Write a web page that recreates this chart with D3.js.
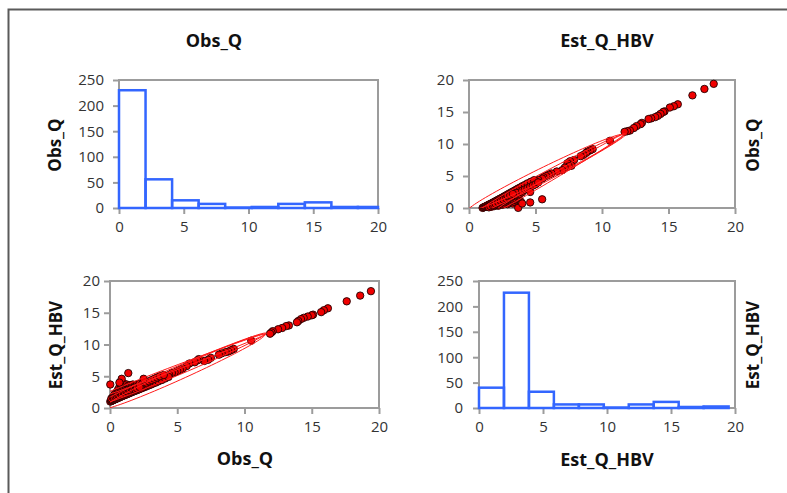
<!DOCTYPE html>
<html>
<head>
<meta charset="utf-8">
<script src="https://cdn.jsdelivr.net/npm/d3@7"></script>
<style>
  body { margin: 0; background: #fff; }
  svg { display: block; }
  .tick text { font-family: "Open Sans", sans-serif; font-size: 15px; fill: #333; }
  .tick line { stroke: #9c9c9c; stroke-width: 2; }
  .lbl { font-family: "Open Sans", sans-serif; font-weight: bold; fill: #111; }
</style>
</head>
<body>
<svg width="787" height="493"></svg>
<script>
// histogram counts (10 bins each)
var obsHistCounts = [230, 56, 15, 8, 1, 2, 8, 11, 2, 2];
var obsHistWidth = 2.05;
var estHistCounts = [40, 227, 32, 7, 7, 1, 7, 12, 2, 3];
var estHistWidth = 1.95;

// paired observations: Obs_Q and Est_Q_HBV
var obsQ = [
  19.4, 18.6, 17.6, 16.2, 15.9, 15.7, 15.1, 15.0, 14.7, 14.4, 14.2, 14.0, 13.9, 13.3, 13.1, 12.8, 12.5, 12.1, 12.0, 11.9,
  10.5, 9.2, 9.0, 8.8, 8.6, 8.3, 8.1, 7.5, 7.3, 7.0, 6.6, 6.5, 6.3, 5.9, 5.7, 5.4, 5.2, 5.0, 4.8, 4.6,
  4.4, 4.2, 4.0, 3.8, 3.6, 3.4, 3.2, 3.0, 2.8, 2.5, 2.3,
  0.02, 0.08, 0.12, 0.18, 0.22, 0.28, 0.33, 0.38, 0.42, 0.47, 0.52, 0.58, 0.63, 0.68, 0.73, 0.78, 0.84, 0.9, 0.96, 1.02,
  1.1, 1.18, 1.26, 1.35, 1.44, 1.53, 1.62, 1.72, 1.82, 1.93, 2.05, 2.18, 2.32, 2.46, 2.6, 2.75, 2.9, 3.05, 3.2, 3.4,
  3.6, 3.85, 4.1, 4.35,
  0.1, 0.2, 0.3, 0.35, 0.45, 0.5, 0.55, 0.6, 0.65, 0.7, 0.75, 0.8, 0.85, 0.9, 0.95, 1.0, 1.05, 1.1, 1.15, 1.2,
  1.25, 1.3, 1.35, 1.4, 1.5, 1.55, 1.6, 1.7, 1.75, 1.85, 1.95, 2.0, 2.1, 2.2, 2.35, 2.45, 2.7, 2.9, 3.1, 3.3,
  3.5, 3.7, 4.0, 0.3, 0.4, 0.5, 0.6, 0.7, 0.8, 0.9, 1.0, 1.1, 1.2, 1.3, 1.4, 1.5, 1.6, 1.7, 1.8, 1.9,
  2.0, 2.2,
  0.02, 0.87, 1.36, 0.7, 2.5
];
var estQ = [
  18.4, 17.7, 16.8, 15.7, 15.4, 15.1, 14.7, 14.6, 14.4, 14.2, 14.0, 13.7, 13.5, 13.0, 12.9, 12.6, 12.4, 12.1, 11.9, 11.7,
  10.6, 9.3, 9.1, 8.9, 8.8, 8.6, 8.4, 7.9, 7.6, 7.4, 7.7, 7.5, 7.2, 7.0, 6.6, 6.2, 6.0, 5.8, 5.6, 5.5,
  5.2, 5.0, 4.9, 4.8, 4.6, 4.5, 4.3, 4.1, 3.9, 3.7, 3.5,
  1.02, 1.08, 1.12, 1.18, 1.25, 1.28, 1.34, 1.37, 1.43, 1.46, 1.52, 1.56, 1.62, 1.66, 1.72, 1.76, 1.82, 1.86, 1.92, 1.97,
  2.04, 2.1, 2.18, 2.25, 2.33, 2.42, 2.5, 2.58, 2.66, 2.75, 2.85, 2.96, 3.08, 3.2, 3.32, 3.45, 3.58, 3.7, 3.85, 4.0,
  4.2, 4.4, 4.65, 4.9,
  1.5, 1.7, 1.9, 2.2, 2.0, 2.5, 2.2, 2.9, 2.6, 3.3, 2.4, 3.6, 3.0, 2.7, 3.4, 3.9, 3.1, 3.6, 2.8, 3.3,
  3.7, 3.0, 3.5, 3.2, 3.6, 3.0, 3.4, 3.7, 3.2, 3.5, 3.3, 3.7, 3.5, 3.8, 3.6, 4.0, 4.0, 4.2, 4.4, 4.6,
  4.8, 5.0, 5.2, 1.6, 1.8, 1.9, 2.1, 2.0, 2.3, 2.2, 2.5, 2.4, 2.7, 2.6, 2.9, 2.8, 3.1, 3.0, 3.2, 2.9,
  3.1, 3.3,
  3.7, 4.6, 5.5, 4.0, 4.6
];

// confidence ellipses: tips [obs, est] and semi-minor axis
var ellipseTipA = [[-1.0, 1.6], [-0.8, 0.6], [-0.5, -0.1]];
var ellipseTipB = [[11.6, 11.7], [11.6, 11.8], [11.5, 11.6]];
var ellipseMinor = [0.3, 0.55, 0.75];

var svg = d3.select("svg");
svg.append("rect").attr("width", 787).attr("height", 493).attr("fill", "#fff");

// outer frame
svg.append("path")
  .attr("d", "M8.5,493 V9.5 H787")
  .attr("fill", "none").attr("stroke", "#5a5a5a").attr("stroke-width", 2);

var panels = [
  { id: "p1", x0: 119, x1: 378, y0: 80, y1: 208, yMax: 250, yStep: 50, pad: 9 },
  { id: "p2", x0: 469, x1: 735, y0: 80, y1: 208, yMax: 20, yStep: 5, pad: 9 },
  { id: "p3", x0: 110, x1: 379, y0: 281, y1: 408, yMax: 20, yStep: 5, pad: 4 },
  { id: "p4", x0: 479, x1: 735, y0: 281, y1: 408, yMax: 250, yStep: 50, pad: 10 }
];

function setup(p) {
  p.x = d3.scaleLinear().domain([0, 20]).range([p.x0, p.x1]);
  p.y = d3.scaleLinear().domain([0, p.yMax]).range([p.y1, p.y0]);
  var g = svg.append("g");
  g.append("rect")
    .attr("x", p.x0).attr("y", p.y0)
    .attr("width", p.x1 - p.x0).attr("height", p.y1 - p.y0)
    .attr("fill", "none").attr("stroke", "#9c9c9c").attr("stroke-width", 2);
  g.append("g").attr("transform", "translate(0," + p.y1 + ")")
    .call(d3.axisBottom(p.x).tickValues([0, 5, 10, 15, 20]).tickSize(6).tickPadding(7))
    .call(function(a) { a.select(".domain").remove(); });
  g.append("g").attr("transform", "translate(" + p.x0 + ",0)")
    .call(d3.axisLeft(p.y).tickValues(d3.range(0, p.yMax + 1, p.yStep)).tickSize(6).tickPadding(p.pad))
    .call(function(a) { a.select(".domain").remove(); });
  svg.append("clipPath").attr("id", "clip-" + p.id)
    .append("rect")
    .attr("x", p.x0).attr("y", p.y0)
    .attr("width", p.x1 - p.x0).attr("height", p.y1 - p.y0);
  p.g = g;
}
panels.forEach(setup);

function histogram(p, counts, w) {
  p.g.selectAll("rect.bar")
    .data(counts)
    .enter().append("rect")
      .attr("class", "bar")
      .attr("x", function(d, i) { return p.x(i * w); })
      .attr("width", function(d, i) { return p.x(Math.min((i + 1) * w, 20)) - p.x(i * w); })
      .attr("y", function(d) { return p.y(d); })
      .attr("height", function(d) { return p.y(0) - p.y(d); })
      .attr("fill", "none")
      .attr("stroke", "#3366ff")
      .attr("stroke-width", 2.5);
}
histogram(panels[0], obsHistCounts, obsHistWidth);
histogram(panels[3], estHistCounts, estHistWidth);

function ellipsePoints(i) {
  var a = ellipseTipA[i], b = ellipseTipB[i];
  var cx = (a[0] + b[0]) / 2, cy = (a[1] + b[1]) / 2;
  var dx = b[0] - a[0], dy = b[1] - a[1];
  var len = Math.sqrt(dx * dx + dy * dy);
  var ux = dx / len, uy = dy / len;
  var major = len / 2, minor = ellipseMinor[i];
  return d3.range(0, 97).map(function(k) {
    var t = k / 96 * 2 * Math.PI;
    return [cx + major * Math.cos(t) * ux - minor * Math.sin(t) * uy,
            cy + major * Math.cos(t) * uy + minor * Math.sin(t) * ux];
  });
}

function scatter(p, swap) {
  var pts = obsQ.map(function(o, i) { return swap ? [estQ[i], o] : [o, estQ[i]]; });
  var line = d3.line()
    .x(function(d) { return p.x(swap ? d[1] : d[0]); })
    .y(function(d) { return p.y(swap ? d[0] : d[1]); });
  p.g.append("g").selectAll("circle")
    .data(pts)
    .enter().append("circle")
      .attr("cx", function(d) { return p.x(d[0]); })
      .attr("cy", function(d) { return p.y(d[1]); })
      .attr("r", 3.7)
      .attr("fill", "#f00000")
      .attr("stroke", "#200000")
      .attr("stroke-width", 0.9);
  var layer = p.g.append("g").attr("clip-path", "url(#clip-" + p.id + ")");
  ellipseTipA.forEach(function(t, i) {
    layer.append("path")
      .attr("d", line(ellipsePoints(i)))
      .attr("fill", "none")
      .attr("stroke", "#ff1a1a")
      .attr("stroke-width", 1);
  });
}
scatter(panels[1], true);
scatter(panels[2], false);

// titles and axis labels
function label(txt, x, y, size, rot) {
  var t = svg.append("text")
    .attr("class", "lbl")
    .attr("text-anchor", "middle")
    .style("font-size", size + "px")
    .text(txt);
  if (rot) t.attr("transform", "translate(" + x + "," + y + ") rotate(-90)");
  else t.attr("x", x).attr("y", y);
}
label("Obs_Q", 214, 47, 18);
label("Est_Q_HBV", 607, 47, 18);
label("Obs_Q", 245, 465, 18);
label("Est_Q_HBV", 607, 466, 18);
label("Obs_Q", 61, 145, 17, true);
label("Est_Q_HBV", 62, 345, 17, true);
label("Obs_Q", 759, 145, 17, true);
label("Est_Q_HBV", 759, 345, 17, true);
</script>
</body>
</html>
